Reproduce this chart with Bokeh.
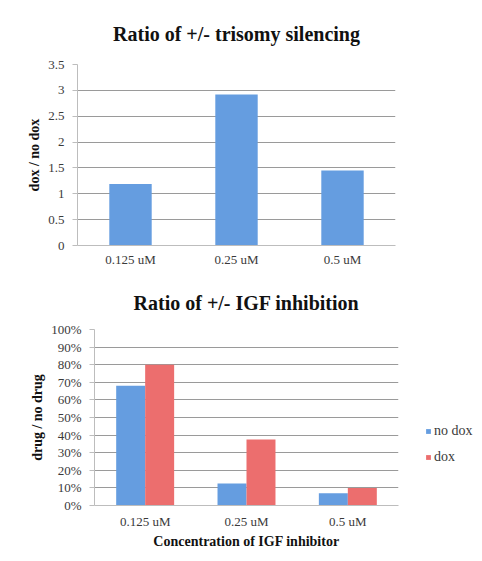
from bokeh.plotting import figure
from bokeh.layouts import column, row
from bokeh.models import (ColumnDataSource, FixedTicker, NumeralTickFormatter,
                          Legend, LegendItem, Title)
from bokeh.transform import dodge
from bokeh.embed import file_html
from bokeh.resources import INLINE

# ---------------- data ----------------
categories = ["0.125 uM", "0.25 uM", "0.5 uM"]
trisomy_ratio = [1.19, 2.92, 1.45]
no_dox = [0.68, 0.125, 0.07]
dox = [0.80, 0.375, 0.10]
top_ticks = [0, 0.5, 1, 1.5, 2, 2.5, 3, 3.5]
bottom_ticks = [0, 0.1, 0.2, 0.3, 0.4, 0.5, 0.6, 0.7, 0.8, 0.9, 1.0]

FONT = "Liberation Serif"
BLUE = "#659de0"
RED = "#ec6e6e"
GRID = "#9a9a9a"
AXIS = "#bdbdbd"
TICKTXT = "#3a3a3a"


def style(p):
    p.outline_line_color = None
    p.xgrid.grid_line_color = None
    p.ygrid.grid_line_color = GRID
    p.ygrid.grid_line_width = 1
    p.background_fill_color = "white"
    p.border_fill_color = "white"
    for ax in (p.xaxis[0], p.yaxis[0]):
        ax.axis_line_color = AXIS
        ax.major_tick_line_color = AXIS
        ax.minor_tick_line_color = None
        ax.major_label_text_font = FONT
        ax.major_label_text_font_size = "13px"
        ax.major_label_text_color = TICKTXT
        ax.axis_label_text_font = FONT
        ax.axis_label_text_font_style = "bold"
        ax.axis_label_text_font_size = "14px"
        ax.axis_label_text_color = "#111111"
    p.xaxis.major_tick_out = 0
    p.xaxis.major_tick_in = 0
    p.xaxis.major_label_standoff = 8
    p.yaxis.major_tick_out = 5
    p.yaxis.major_tick_in = 0
    p.yaxis.major_label_standoff = 8
    p.yaxis.axis_label_standoff = 3


# ---------------- top chart ----------------
src1 = ColumnDataSource(dict(cat=categories, val=trisomy_ratio))
p1 = figure(x_range=categories, y_range=(0, 3.5),
            frame_width=318, frame_height=181,
            min_border_left=77, min_border_right=87, min_border_top=64,
            min_border_bottom=22, output_backend="svg", toolbar_location=None)
p1.vbar(x="cat", top="val", width=0.4, source=src1, fill_color=BLUE,
        line_color=None)
style(p1)
p1.xaxis.major_label_standoff = 6
p1.yaxis.ticker = FixedTicker(ticks=top_ticks)
p1.yaxis.formatter = NumeralTickFormatter(format="0.[0]")
p1.yaxis.axis_label = "dox / no dox"
p1.add_layout(Title(text="Ratio of +/- trisomy silencing", align="center",
                    text_font=FONT, text_font_size="20px",
                    text_font_style="bold", text_color="#111111",
                    standoff=40, offset=12), "above")

# ---------------- bottom chart ----------------
src2 = ColumnDataSource(dict(cat=categories, nodox=no_dox, dox=dox))
p2 = figure(x_range=categories, y_range=(0, 1.0),
            frame_width=304, frame_height=176,
            min_border_left=94, min_border_right=84, min_border_top=60,
            min_border_bottom=56, output_backend="svg", toolbar_location=None)
r1 = p2.vbar(x=dodge("cat", -0.143, range=p2.x_range), top="nodox",
             width=0.286, source=src2, fill_color=BLUE, line_color=None)
r2 = p2.vbar(x=dodge("cat", 0.143, range=p2.x_range), top="dox",
             width=0.286, source=src2, fill_color=RED, line_color=None)
style(p2)
p2.yaxis.ticker = FixedTicker(ticks=bottom_ticks)
p2.yaxis.formatter = NumeralTickFormatter(format="0%")
p2.yaxis.axis_label = "drug / no drug"
p2.xaxis.axis_label = "Concentration of IGF inhibitor"
p2.xaxis.axis_label_standoff = 2
p2.add_layout(Title(text="Ratio of +/- IGF inhibition", align="center",
                    text_font=FONT, text_font_size="20px",
                    text_font_style="bold", text_color="#111111",
                    standoff=32, offset=2), "above")

legend = Legend(items=[LegendItem(label="no dox", renderers=[r1]),
                       LegendItem(label="dox", renderers=[r2])],
                location=(27, 40), orientation="vertical",
                label_text_font=FONT,
                label_text_font_size="14px",
                label_text_color=TICKTXT, glyph_width=6, glyph_height=6,
                spacing=10, padding=0, margin=0, label_standoff=3,
                label_height=16,
                border_line_color=None, background_fill_alpha=0)
p2.add_layout(legend, "right")

layout = column(row(p1), row(p2), spacing=0)
open("out.html", "w").write(file_html(layout, INLINE))
